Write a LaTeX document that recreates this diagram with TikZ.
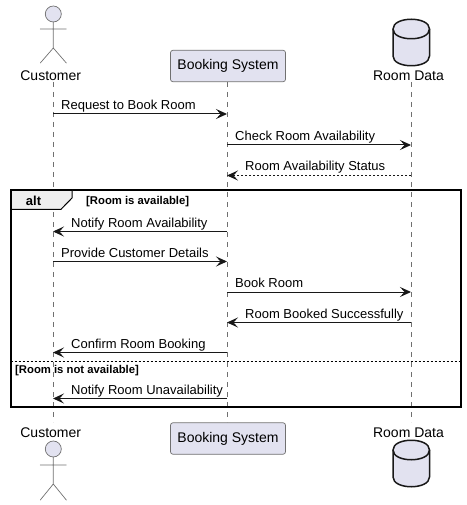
\documentclass[tikz,border=0pt]{standalone}
\usepackage{fontspec}
\setmainfont{Liberation Sans}
\usetikzlibrary{arrows.meta,positioning}
\definecolor{partfill}{HTML}{E2E2F0}
\definecolor{partline}{HTML}{181818}
\definecolor{lifegray}{HTML}{707070}
\definecolor{tabfill}{HTML}{EEEEEE}
\tikzset{
  txt/.style={inner sep=0pt,font=\fontsize{14}{16}\selectfont,text=black},
  msglabel/.style={inner sep=0pt,font=\fontsize{13}{15}\selectfont,text=black,anchor=base west},
  partlabel/.style={txt,anchor=center},
  partbox/.style={draw=lifegray,line width=0.7pt,fill=partfill,rounded corners=2.5pt,minimum width=115pt,minimum height=31.5pt,inner sep=0pt,font=\fontsize{14}{16}\selectfont},
  lifeline/.style={draw=lifegray,line width=0.6pt,dash pattern=on 5pt off 5pt},
  shapeline/.style={draw=lifegray,line width=0.7pt,line cap=round},
  dbline/.style={draw=partline,line width=1.5pt},
  msg/.style={draw=partline,line width=1pt,-{Stealth[length=11pt,width=10pt,inset=4.5pt,fill=partline]}},
  msgdash/.style={msg,dash pattern=on 2pt off 2pt},
  framebox/.style={draw=black,line width=2pt},
  guard/.style={inner sep=0pt,font=\fontsize{11.3}{13}\bfseries\selectfont,anchor=base west,text=black},
  alttitle/.style={inner sep=0pt,font=\fontsize{13}{15}\bfseries\selectfont,anchor=base,text=black}
}
\begin{document}
\begin{tikzpicture}[x=1pt,y=-1pt]
\useasboundingbox (0,0) rectangle (466,505);
% participant labels and boxes
\node[partlabel] (custT) at (50.7,75.5) {Customer};
\node[partlabel] (custB) at (50.7,432.5) {Customer};
\node[partbox] (bookT) at (228,66) {Booking System};
\node[partbox] (bookB) at (228,438.5) {Booking System};
\node[partlabel] (roomT) at (408.5,75.5) {Room Data};
\node[partlabel] (roomB) at (408.5,432.5) {Room Data};
% lifeline ends
\coordinate (lcT) at (53,82); \coordinate (lcB) at (53,422);
\coordinate (lbT) at (227,82); \coordinate (lbB) at (227,422);
\coordinate (lrT) at (411,82); \coordinate (lrB) at (411,422);
\draw[lifeline] (lcT) -- (lcB);
\draw[lifeline] (lbT) -- (lbB);
\draw[lifeline] (lrT) -- (lrB);
% top actor
\draw[shapeline,fill=partfill] (53.3,14) circle (8);
\draw[shapeline] (53.3,22) -- (53.3,48) (40.3,29) -- (66.3,29) (40.3,63) -- (53.3,48) -- (66.3,63);
% bottom actor
\draw[shapeline,fill=partfill] (53.3,449) circle (8);
\draw[shapeline] (53.3,457) -- (53.3,484) (40.3,465) -- (66.3,465) (40.3,500) -- (53.3,484) -- (66.3,500);
% top database
\draw[dbline,fill=partfill] (393,29) .. controls (393,16) and (429.5,16) .. (429.5,29) -- (429.5,56) .. controls (429.5,69) and (393,69) .. (393,56) -- cycle;
\draw[dbline] (393,29) .. controls (393,42) and (429.5,42) .. (429.5,29);
% bottom database
\draw[dbline,fill=partfill] (393,450) .. controls (393,437) and (429.5,437) .. (429.5,450) -- (429.5,477) .. controls (429.5,490) and (393,490) .. (393,477) -- cycle;
\draw[dbline] (393,450) .. controls (393,463) and (429.5,463) .. (429.5,450);
% alt frame
\draw[framebox] (10.5,189.5) rectangle (460.7,406.7);
\draw[draw=black,line width=1pt,fill=tabfill] (10.5,189.5) -- (72,189.5) -- (72,198) -- (61,209.3) -- (10.5,209.3) -- cycle;
\draw[framebox] (10.5,209.3) -- (10.5,189.5) -- (72,189.5);
\node[alttitle] (alt) at (33.5,205) {alt};
\node[guard] (g1) at (86,204.5) {[Room is available]};
\coordinate (divL) at (10.5,361); \coordinate (divR) at (460.7,361);
\draw[draw=black,line width=0.7pt,dash pattern=on 2pt off 2pt] (divL) -- (divR);
\node[guard] (g2) at (15,373) {[Room is not available]};
% message anchors
\foreach \n/\y in {1/114,2/145,3/175.5,4/231.5,5/261.5,6/292,7/322.5,8/352.5,9/398.5}{
  \coordinate (c\n) at (53,\y); \coordinate (b\n) at (227,\y); \coordinate (r\n) at (411,\y);
}
\draw[msg] (c1) -- (b1);
\draw[msg] (b2) -- (r2);
\draw[msgdash] (r3) -- (b3);
\draw[msg] (b4) -- (c4);
\draw[msg] (c5) -- (b5);
\draw[msg] (b6) -- (r6);
\draw[msg] (r7) -- (b7);
\draw[msg] (b8) -- (c8);
\draw[msg] (b9) -- (c9);
\node[msglabel] (m1) at (61,109.5) {Request to Book Room};
\node[msglabel] (m2) at (235,140.5) {Check Room Availability};
\node[msglabel] (m3) at (245,171) {Room Availability Status};
\node[msglabel] (m4) at (71,227) {Notify Room Availability};
\node[msglabel] (m5) at (61,257) {Provide Customer Details};
\node[msglabel] (m6) at (235,287.5) {Book Room};
\node[msglabel] (m7) at (245,318) {Room Booked Successfully};
\node[msglabel] (m8) at (71,348) {Confirm Room Booking};
\node[msglabel] (m9) at (71,394) {Notify Room Unavailability};
\end{tikzpicture}
\end{document}
